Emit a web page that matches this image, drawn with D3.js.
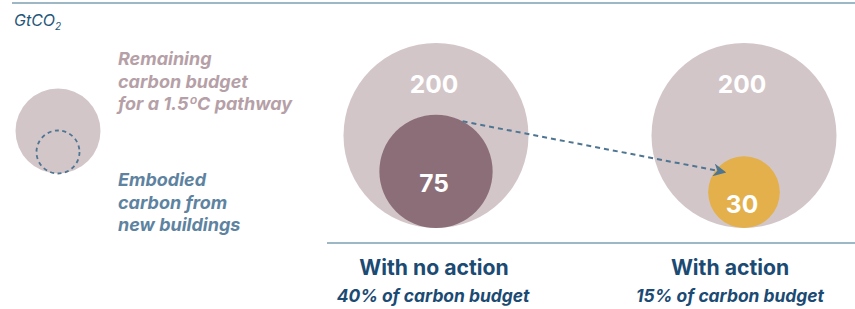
<!DOCTYPE html>
<html lang="en">
<head>
    <meta charset="UTF-8">
    <title>Embodied carbon vs carbon budget</title>
    <script src="https://cdn.jsdelivr.net/npm/d3@7/dist/d3.min.js"></script>
    <style>
        body { margin: 0; background: #fff; }
        text { font-family: Inter, "Noto Sans", sans-serif; }
    </style>
</head>
<body>
<script>
    // canvas size
    const width = 855;
    const height = 309;

    // data
    const scenarios = ['With no action', 'With action'];
    const budget = [200, 200];
    const embodied = [75, 30];
    const shares = ['40% of carbon budget', '15% of carbon budget'];
    const legendBudget = ['Remaining', 'carbon budget', 'for a 1.5ºC pathway'];
    const legendEmbodied = ['Embodied', 'carbon from', 'new buildings'];

    const colBudget = '#d3c6c9';
    const colEmbodied = ['#8c6e78', '#e3b04b'];
    const colTitle = '#1b4a73';
    const colArrow = '#4e7592';

    let svg = d3.select('body')
        .append('svg')
        .attr('width', width)
        .attr('height', height);

    // scales
    let x = d3.scalePoint().domain(scenarios).range([436, 744]);
    let r = d3.scaleSqrt().domain([0, 200]).range([0, 92.5]);
    const baseY = 228; // circles sit on this line

    // rules
    svg.append('line')
        .attr('x1', 12).attr('x2', width).attr('y1', 3).attr('y2', 3)
        .attr('stroke', '#7d9fb1').attr('stroke-width', 1.5);
    svg.append('line')
        .attr('x1', 327).attr('x2', width).attr('y1', 243).attr('y2', 243)
        .attr('stroke', '#7d9fb1').attr('stroke-width', 1.5);

    // unit
    let unit = svg.append('text')
        .attr('x', 14).attr('y', 26)
        .attr('fill', '#245679')
        .attr('font-size', 16)
        .attr('font-style', 'italic');
    unit.append('tspan').text('GtCO');
    unit.append('tspan').attr('font-size', 10).attr('dy', 4).text('2');

    // legend
    svg.append('circle')
        .attr('cx', 58).attr('cy', 131).attr('r', 42.5)
        .attr('fill', colBudget);
    svg.append('circle')
        .attr('cx', 58).attr('cy', 152).attr('r', 21.5)
        .attr('fill', 'none')
        .attr('stroke', '#4e7592')
        .attr('stroke-width', 1.8)
        .attr('stroke-dasharray', '4,3.5');

    svg.append('g').selectAll('text')
        .data(legendBudget)
        .join('text')
        .attr('x', 118)
        .attr('y', (d, i) => 65 + i * 22.5)
        .attr('fill', '#b6a0a7')
        .attr('font-size', 18)
        .attr('font-weight', 700)
        .attr('font-style', 'italic')
        .text(d => d);

    svg.append('g').selectAll('text')
        .data(legendEmbodied)
        .join('text')
        .attr('x', 118)
        .attr('y', (d, i) => 186 + i * 22.5)
        .attr('fill', '#5e83a0')
        .attr('font-size', 18)
        .attr('font-weight', 700)
        .attr('font-style', 'italic')
        .text(d => d);

    // budget circles
    let groups = svg.selectAll('g.scenario')
        .data(scenarios)
        .join('g')
        .attr('class', 'scenario');

    groups.append('circle')
        .attr('cx', d => x(d))
        .attr('cy', (d, i) => baseY - r(budget[i]))
        .attr('r', (d, i) => r(budget[i]))
        .attr('fill', colBudget);

    groups.append('circle')
        .attr('cx', d => x(d))
        .attr('cy', (d, i) => baseY - r(embodied[i]))
        .attr('r', (d, i) => r(embodied[i]))
        .attr('fill', (d, i) => colEmbodied[i]);

    groups.append('text')
        .attr('x', d => x(d) - 2)
        .attr('y', 93)
        .attr('text-anchor', 'middle')
        .attr('fill', '#fff')
        .attr('font-size', 24.5)
        .attr('font-weight', 700)
        .text((d, i) => budget[i]);

    groups.append('text')
        .attr('x', d => x(d) - 2)
        .attr('y', (d, i) => baseY - r(embodied[i]) + 21)
        .attr('text-anchor', 'middle')
        .attr('fill', '#fff')
        .attr('font-size', 24.5)
        .attr('font-weight', 700)
        .text((d, i) => embodied[i]);

    // labels under the rule
    groups.append('text')
        .attr('x', (d, i) => x(d) - (i === 0 ? 2 : 14))
        .attr('y', 275)
        .attr('text-anchor', 'middle')
        .attr('fill', colTitle)
        .attr('font-size', 21.2)
        .attr('font-weight', 700)
        .text(d => d);

    groups.append('text')
        .attr('x', (d, i) => x(d) - (i === 0 ? 3 : 14))
        .attr('y', 302)
        .attr('text-anchor', 'middle')
        .attr('fill', colTitle)
        .attr('font-size', 17.4)
        .attr('font-weight', 700)
        .attr('font-style', 'italic')
        .text((d, i) => shares[i]);

    // dashed arrow from 75 to 30
    svg.append('defs').append('marker')
        .attr('id', 'head')
        .attr('viewBox', '0 0 10 10')
        .attr('refX', 8).attr('refY', 5)
        .attr('markerWidth', 6.5).attr('markerHeight', 6.5)
        .attr('markerUnits', 'strokeWidth')
        .attr('orient', 'auto')
        .append('path')
        .attr('d', 'M0,0 L10,5 L0,10 L3,5 Z')
        .attr('fill', colArrow);

    let a = -62 * Math.PI / 180;
    let b = -135 * Math.PI / 180;
    let r1 = r(embodied[0]), r2 = r(embodied[1]);
    let x1 = x(scenarios[0]) + r1 * Math.cos(a);
    let y1 = baseY - r1 + r1 * Math.sin(a);
    let x2 = x(scenarios[1]) + 0.8 * r2 * Math.cos(b);
    let y2 = baseY - r2 + 0.8 * r2 * Math.sin(b);

    svg.append('line')
        .attr('x1', x1).attr('y1', y1)
        .attr('x2', x2).attr('y2', y2)
        .attr('stroke', colArrow)
        .attr('stroke-width', 2)
        .attr('stroke-dasharray', '5,4')
        .attr('marker-end', 'url(#head)');
</script>
</body>
</html>
